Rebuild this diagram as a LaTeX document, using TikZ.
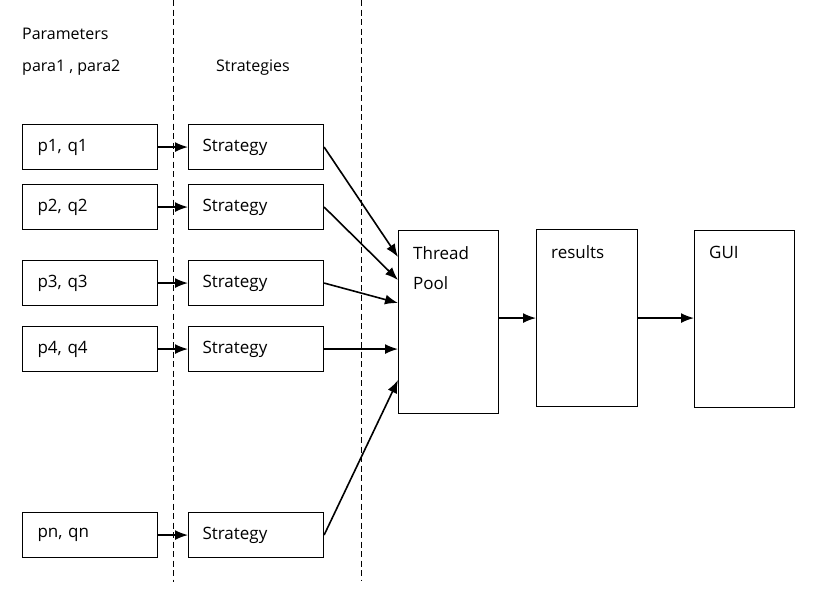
\documentclass[tikz,border=0pt]{standalone}
\usepackage{fontspec}
\setmainfont{Open Sans}
\usetikzlibrary{arrows.meta}

\begin{document}
\begin{tikzpicture}[x=1pt,y=-1pt,
    box/.style={draw,line width=1.1pt,rectangle,anchor=north west,
      minimum width=135pt,minimum height=45pt,text width=105pt,
      inner xsep=15pt,inner ysep=0pt,align=left,font=\fontsize{17}{20}\selectfont},
    tallbox/.style={draw,line width=1.1pt,rectangle,anchor=north west,
      minimum width=100pt,inner sep=0pt},
    boxtext/.style={anchor=north west,xshift=15pt,yshift=-16pt,inner sep=0pt,
      align=left,font=\fontsize{17}{30}\selectfont},
    arrow/.style={-{Latex[length=13pt,width=10pt]},line width=1.6pt},
    sep/.style={dash pattern=on 6pt off 3.5pt,line width=0.9pt}]
      \useasboundingbox (0,0) rectangle (826,597);
      % Draw the dashed separators
      \draw [sep] (173,0) -- (173,582);
      \draw [sep] (361,0) -- (361,580);
      % Draw the headings
      \node [anchor=base west,inner sep=0pt,font=\fontsize{16}{18}\selectfont] (head) at (22,39) {Parameters};
      \node [anchor=base west,inner sep=0pt,font=\fontsize{16}{18}\selectfont] (paras) at (22,71) {para1 , para2};
      \node [anchor=base west,inner sep=0pt,font=\fontsize{16}{18}\selectfont] (strats) at (216,71) {Strategies};
      % Draw the parameter boxes
      \node [box] (p1) at (22,124) {p1, q1};
      \node [box] (p2) at (22,184) {p2, q2};
      \node [box] (p3) at (22,260) {p3, q3};
      \node [box] (p4) at (22,326) {p4, q4};
      \node [box] (pn) at (22,512) {pn, qn};
      % Draw the strategy boxes
      \node [box,text width=107pt,inner xsep=14pt] (s1) at (188,124) {Strategy};
      \node [box,text width=107pt,inner xsep=14pt] (s2) at (188,184) {Strategy};
      \node [box,text width=107pt,inner xsep=14pt] (s3) at (188,260) {Strategy};
      \node [box,text width=107pt,inner xsep=14pt] (s4) at (188,326) {Strategy};
      \node [box,text width=107pt,inner xsep=14pt] (sn) at (188,512) {Strategy};
      % Draw the pool, results and GUI boxes
      \node [tallbox,minimum height=183pt,label={[boxtext]north west:Thread\\Pool}] (pool) at (398,230) {};
      \node [tallbox,minimum width=101pt,minimum height=177pt,label={[boxtext]north west:results}] (res) at (536,229) {};
      \node [tallbox,minimum height=177pt,label={[boxtext]north west:GUI}] (gui) at (694,230) {};
      % Draw parameters to strategies
      \draw [arrow] (p1) -- (s1);
      \draw [arrow] (p2) -- (s2);
      \draw [arrow] (p3) -- (s3);
      \draw [arrow] (p4) -- (s4);
      \draw [arrow] (pn) -- (sn);
      % Draw strategies to the pool
      \draw [arrow] (s1.east) -- ([yshift=-27pt]pool.north west);
      \draw [arrow] (s2.east) -- ([yshift=-50pt]pool.north west);
      \draw [arrow] (s3.east) -- ([yshift=-73pt]pool.north west);
      \draw [arrow] (s4.east) -- (pool.west |- s4.east);
      \draw [arrow] (sn.east) -- ([yshift=-150pt]pool.north west);
      % Draw the output chain
      \draw [arrow] (pool.east |- res.west) -- (res.west);
      \draw [arrow] (res.east) -- (gui.west |- res.east);
\end{tikzpicture}
\end{document}
